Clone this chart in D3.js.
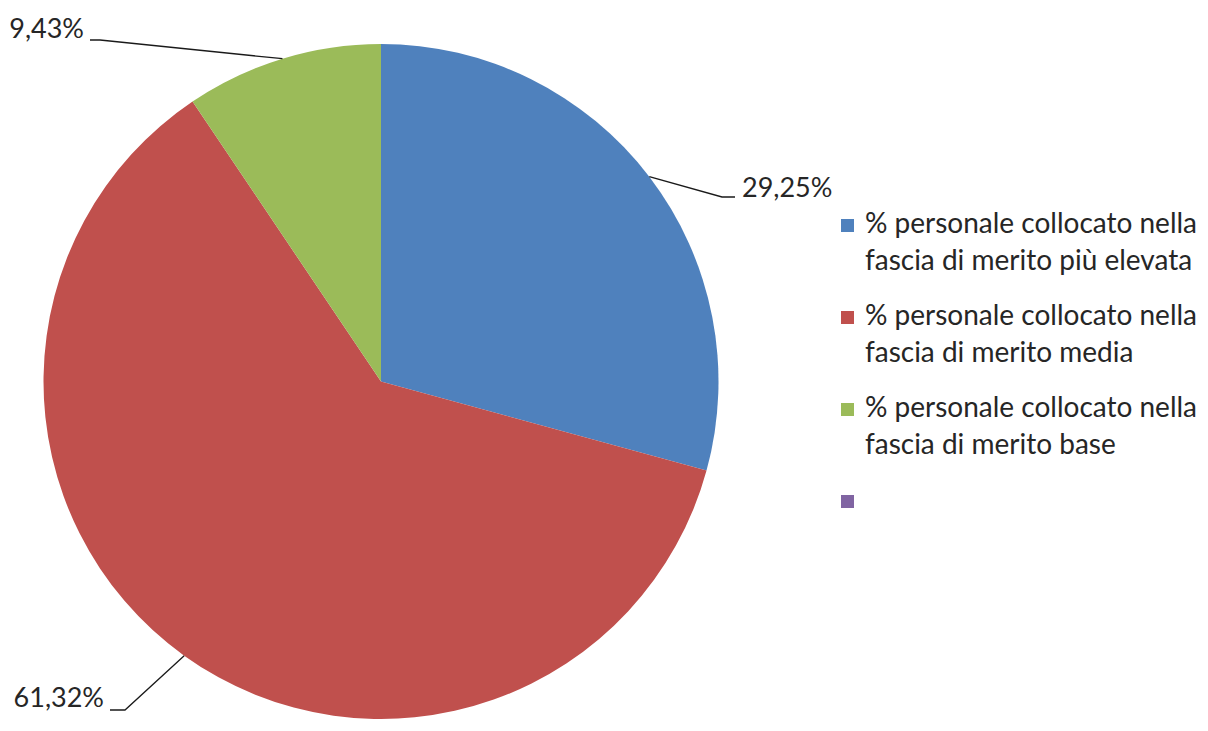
<!DOCTYPE html>
<html>
<head>
<meta charset="utf-8">
<script src="https://cdn.jsdelivr.net/npm/d3@7"></script>
<style>
  html, body { margin: 0; padding: 0; background: #fff; }
  svg { display: block; }
</style>
</head>
<body>
<svg id="chart" width="1208" height="731"></svg>
<script>
const categories = [
  ["% personale collocato nella", "fascia di merito più elevata"],
  ["% personale collocato nella", "fascia di merito media"],
  ["% personale collocato nella", "fascia di merito base"],
  [""]
];
const values = [29.25, 61.32, 9.43, 0];
const valueLabels = ["29,25%", "61,32%", "9,43%", ""];
const colors = ["#4F81BD", "#C0504D", "#9BBB59", "#8064A2"];

const svg = d3.select("#chart");
const cx = 381, cy = 381.5, r = 337.5;
const font = "Lato, 'Open Sans', sans-serif";
const textColor = "#262626";

const pie = d3.pie().sort(null).value(d => d)(values);
const arc = d3.arc().innerRadius(0).outerRadius(r);

const g = svg.append("g").attr("transform", `translate(${cx},${cy})`);
g.selectAll("path").data(pie).enter().append("path")
  .attr("d", arc)
  .attr("fill", (d, i) => colors[i]);

// leader lines and labels
const labelSpec = [
  { elbow: [722 - cx, 197 - cy], end: [735 - cx, 197 - cy], text: [742 - cx, 197 - cy], anchor: "start" },
  { elbow: [125 - cx, 710 - cy], end: [110 - cx, 710 - cy], text: [104 - cx, 707 - cy], anchor: "end" },
  { elbow: [100 - cx, 40 - cy], end: [90 - cx, 40 - cy], text: [84 - cx, 38 - cy], anchor: "end" }
];
pie.forEach((d, i) => {
  if (!valueLabels[i]) return;
  const s = labelSpec[i];
  const a = (d.startAngle + d.endAngle) / 2;
  const p = [r * Math.sin(a), -r * Math.cos(a)];
  g.append("polyline")
    .attr("points", [p, s.elbow, s.end].map(q => q.join(",")).join(" "))
    .attr("fill", "none")
    .attr("stroke", "#1a1a1a")
    .attr("stroke-width", 1.3);
  g.append("text")
    .attr("x", s.text[0]).attr("y", s.text[1])
    .attr("text-anchor", s.anchor)
    .attr("font-family", font)
    .attr("font-size", 27)
    .attr("fill", textColor)
    .text(valueLabels[i]);
});

// legend
const legend = svg.append("g").attr("transform", "translate(841,219)");
const itemStep = 92, lineStep = 37;
categories.forEach((lines, i) => {
  const it = legend.append("g").attr("transform", `translate(0,${i * itemStep})`);
  it.append("rect").attr("width", 13).attr("height", 13).attr("fill", colors[i]);
  lines.forEach((t, j) => {
    it.append("text")
      .attr("x", 24).attr("y", 14 + j * lineStep)
      .attr("font-family", font)
      .attr("font-size", 28)
      .attr("fill", textColor)
      .text(t);
  });
});
</script>
</body>
</html>
